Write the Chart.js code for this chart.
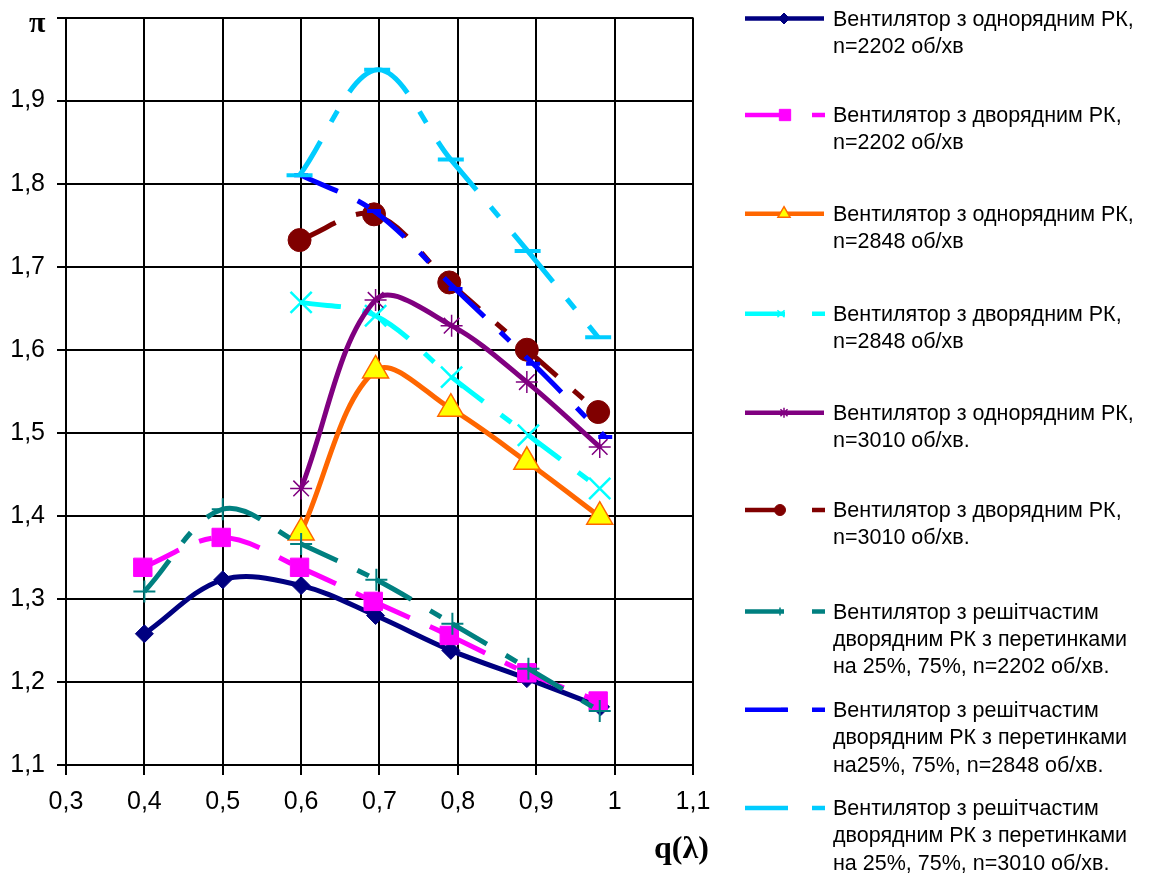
<!DOCTYPE html>
<html>
<head>
<meta charset="utf-8">
<script src="https://cdn.jsdelivr.net/npm/chart.js@4.4.1/dist/chart.umd.min.js"></script>
<style>
  html, body { margin: 0; padding: 0; background: #fff; }
  #wrap { position: relative; width: 1149px; height: 874px; overflow: hidden;
          font-family: "Liberation Sans", Arial, sans-serif; }
  #c { position: absolute; left: 0; top: 0; }
  .lg { position: absolute; left: 833px; font-size: 21.5px; line-height: 27.3px;
        color: #000; white-space: nowrap; }
  .ax { position: absolute; font-family: "Liberation Serif", "Times New Roman", serif;
        font-weight: bold; line-height: 1; color: #000; }
</style>
</head>
<body>
<div id="wrap">
  <canvas id="c" width="1149" height="874"></canvas>
  <div class="ax" style="left:29px; top:7px; font-size:30px;">π</div>
  <div class="ax" style="left:654px; top:831px; font-size:32px;">q(λ)</div>
  <div id="legend"></div>
</div>
<script>
// q(λ) and π for each fan configuration
const q_odn_2202  = [0.400, 0.500, 0.600, 0.695, 0.791, 0.888, 0.982];
const pi_odn_2202 = [1.258, 1.323, 1.316, 1.280, 1.238, 1.204, 1.170];

const q_dvo_2202  = [0.398, 0.498, 0.598, 0.692, 0.789, 0.888, 0.979];
const pi_dvo_2202 = [1.338, 1.374, 1.338, 1.297, 1.256, 1.211, 1.177];

const q_odn_2848  = [0.600, 0.695, 0.791, 0.888, 0.981];
const pi_odn_2848 = [1.380, 1.575, 1.529, 1.465, 1.399];

const q_dvo_2848  = [0.600, 0.695, 0.792, 0.890, 0.981];
const pi_dvo_2848 = [1.657, 1.641, 1.567, 1.497, 1.433];

const q_odn_3010  = [0.600, 0.695, 0.792, 0.888, 0.981];
const pi_odn_3010 = [1.433, 1.660, 1.629, 1.561, 1.483];

const q_dvo_3010  = [0.598, 0.693, 0.789, 0.888, 0.979];
const pi_dvo_3010 = [1.732, 1.763, 1.681, 1.600, 1.525];

const q_resh_2202  = [0.400, 0.500, 0.600, 0.696, 0.793, 0.890, 0.981];
const pi_resh_2202 = [1.309, 1.408, 1.366, 1.323, 1.270, 1.216, 1.165];

const q_resh_2848  = [0.600, 0.693, 0.797, 0.896, 0.988];
const pi_resh_2848 = [1.810, 1.767, 1.673, 1.583, 1.495];

const q_resh_3010  = [0.598, 0.697, 0.791, 0.889, 0.979];
const pi_resh_3010 = [1.810, 1.937, 1.829, 1.719, 1.615];

// axis ticks
const xTickValues = [0.3, 0.4, 0.5, 0.6, 0.7, 0.8, 0.9, 1.0, 1.1];
const xTickLabels = ["0,3", "0,4", "0,5", "0,6", "0,7", "0,8", "0,9", "1", "1,1"];
const yTickValues = [1.1, 1.2, 1.3, 1.4, 1.5, 1.6, 1.7, 1.8, 1.9, 2.0];
const yTickLabels = ["1,1", "1,2", "1,3", "1,4", "1,5", "1,6", "1,7", "1,8", "1,9", ""];

// legend texts
const seriesNames = [
  ["Вентилятор з однорядним РК,", "n=2202 об/хв"],
  ["Вентилятор з дворядним РК,", "n=2202 об/хв"],
  ["Вентилятор з однорядним РК,", "n=2848 об/хв"],
  ["Вентилятор з дворядним РК,", "n=2848 об/хв"],
  ["Вентилятор з однорядним РК,", "n=3010 об/хв."],
  ["Вентилятор з дворядним РК,", "n=3010 об/хв."],
  ["Вентилятор з решітчастим", "дворядним РК з перетинками", "на 25%, 75%, n=2202 об/хв."],
  ["Вентилятор з решітчастим", "дворядним РК з перетинками", "на25%, 75%, n=2848 об/хв."],
  ["Вентилятор з решітчастим", "дворядним РК з перетинками", "на 25%, 75%, n=3010 об/хв."]
];

const pairs = (xs, ys) => xs.map((x, i) => ({ x: x, y: ys[i] }));

// long dash / short dash pattern, restarted at every data point
const DASH = [40, 22, 13, 22];
const restartDash = {
  borderDash: () => DASH,
  borderDashOffset: c => (c.p0DataIndex % 2) * 0.001
};

function series(xs, ys, o) {
  return {
    data: pairs(xs, ys),
    borderColor: o.color,
    borderWidth: 5,
    pointStyle: o.marker,
    pointRadius: o.r,
    pointBackgroundColor: o.fill || o.color,
    pointBorderColor: o.edge || o.color,
    pointBorderWidth: o.bw,
    tension: 0.35,
    borderJoinStyle: 'round',
    segment: o.dashed ? restartDash : undefined,
    legendDashed: !!o.dashed,
    legendR: o.lr,
    legendEnd: o.lend
  };
}

const datasets = [
  series(q_odn_2202, pi_odn_2202, { color: '#000080', marker: 'rectRot', r: 9, bw: 1, lr: 5.5 }),
  series(q_dvo_2202, pi_dvo_2202, { color: '#FF00FF', marker: 'rect', r: 13, bw: 1, dashed: true, lr: 8, lend: 789 }),
  series(q_odn_2848, pi_odn_2848, { color: '#FF6600', marker: 'triangle', r: 15, bw: 1.5, fill: '#FFFF00', edge: '#FF6600', lr: 7 }),
  series(q_dvo_2848, pi_dvo_2848, { color: '#00FFFF', marker: 'crossRot', r: 15, bw: 2.5, dashed: true, lr: 5, lend: 785 }),
  series(q_odn_3010, pi_odn_3010, { color: '#800080', marker: 'star', r: 11, bw: 1.5, lr: 5 }),
  series(q_dvo_3010, pi_dvo_3010, { color: '#800000', marker: 'circle', r: 11.5, bw: 1, dashed: true, lr: 5.5, lend: 784 }),
  series(q_resh_2202, pi_resh_2202, { color: '#008080', marker: 'cross', r: 11, bw: 2, dashed: true, lr: 4, lend: 784 }),
  series(q_resh_2848, pi_resh_2848, { color: '#0000FF', marker: 'line', r: 7, bw: 4, dashed: true, lr: 3, lend: 788 }),
  series(q_resh_3010, pi_resh_3010, { color: '#00CCFF', marker: 'line', r: 13, bw: 4, dashed: true, lr: 3, lend: 788 })
];
// later series are painted over earlier ones
datasets.forEach((d, i) => { d.order = datasets.length - i; });

// legend rows: vertical centre of the first text line
const legendRowY = [19.5, 116, 214.7, 314.7, 413.8, 511, 612.5, 710.8, 809];

const legendEl = document.getElementById('legend');
seriesNames.forEach((lines, i) => {
  const d = document.createElement('div');
  d.className = 'lg';
  d.style.top = (legendRowY[i] - 13.8) + 'px';
  d.innerHTML = lines.join('<br>');
  legendEl.appendChild(d);
});

const sideLegendSwatches = {
  id: 'sideLegendSwatches',
  afterDraw(chart) {
    const ctx = chart.ctx;
    chart.data.datasets.forEach((ds, i) => {
      const y = legendRowY[i] - 1;
      ctx.save();
      ctx.strokeStyle = ds.borderColor;
      ctx.lineWidth = 4.5;
      ctx.lineCap = 'butt';
      ctx.beginPath();
      if (ds.legendDashed) {
        ctx.moveTo(745, y); ctx.lineTo(ds.legendEnd, y);
        ctx.moveTo(812, y); ctx.lineTo(825, y);
      } else {
        ctx.moveTo(745, y); ctx.lineTo(824, y);
      }
      ctx.stroke();
      ctx.fillStyle = ds.pointBackgroundColor;
      ctx.strokeStyle = ds.pointBorderColor;
      ctx.lineWidth = ds.pointStyle === 'line' ? 4 : Math.min(ds.pointBorderWidth, 1.5);
      Chart.helpers.drawPoint(ctx, {
        pointStyle: ds.pointStyle, radius: ds.legendR, rotation: 0,
        borderWidth: ctx.lineWidth
      }, ds.legendDashed ? ds.legendEnd - 4 : 784, y);
      ctx.restore();
    });
  }
};

const tickFont = { family: '"Liberation Sans", Arial, sans-serif', size: 25 };

new Chart(document.getElementById('c'), {
  type: 'line',
  data: { datasets: datasets },
  options: {
    responsive: false,
    animation: false,
    devicePixelRatio: 1,
    layout: { padding: { left: 0, top: 17, right: 456, bottom: 0 } },
    plugins: { legend: { display: false }, tooltip: { enabled: false } },
    scales: {
      x: {
        type: 'linear', min: 0.3, max: 1.1,
        afterFit: s => { s.height = 109; s.paddingLeft = 0; s.paddingRight = 0; },
        afterBuildTicks: s => { s.ticks = xTickValues.map(v => ({ value: v })); },
        ticks: {
          callback: (v, i) => xTickLabels[i],
          color: '#000', padding: 12, maxRotation: 0, autoSkip: false, font: tickFont
        },
        grid: { color: '#000', lineWidth: 2, tickLength: 10, tickColor: '#000', tickWidth: 2 },
        border: { color: '#000', width: 2 }
      },
      y: {
        type: 'linear', min: 1.1, max: 2.0,
        afterFit: s => { s.width = 66; s.paddingTop = 0; s.paddingBottom = 0; },
        afterBuildTicks: s => { s.ticks = yTickValues.map(v => ({ value: v })); },
        ticks: {
          callback: (v, i) => yTickLabels[i],
          color: '#000', padding: 12, autoSkip: false, font: tickFont
        },
        grid: { color: '#000', lineWidth: 2, tickLength: 9, tickColor: '#000', tickWidth: 2 },
        border: { color: '#000', width: 2 }
      }
    }
  },
  plugins: [sideLegendSwatches]
});
</script>
</body>
</html>
